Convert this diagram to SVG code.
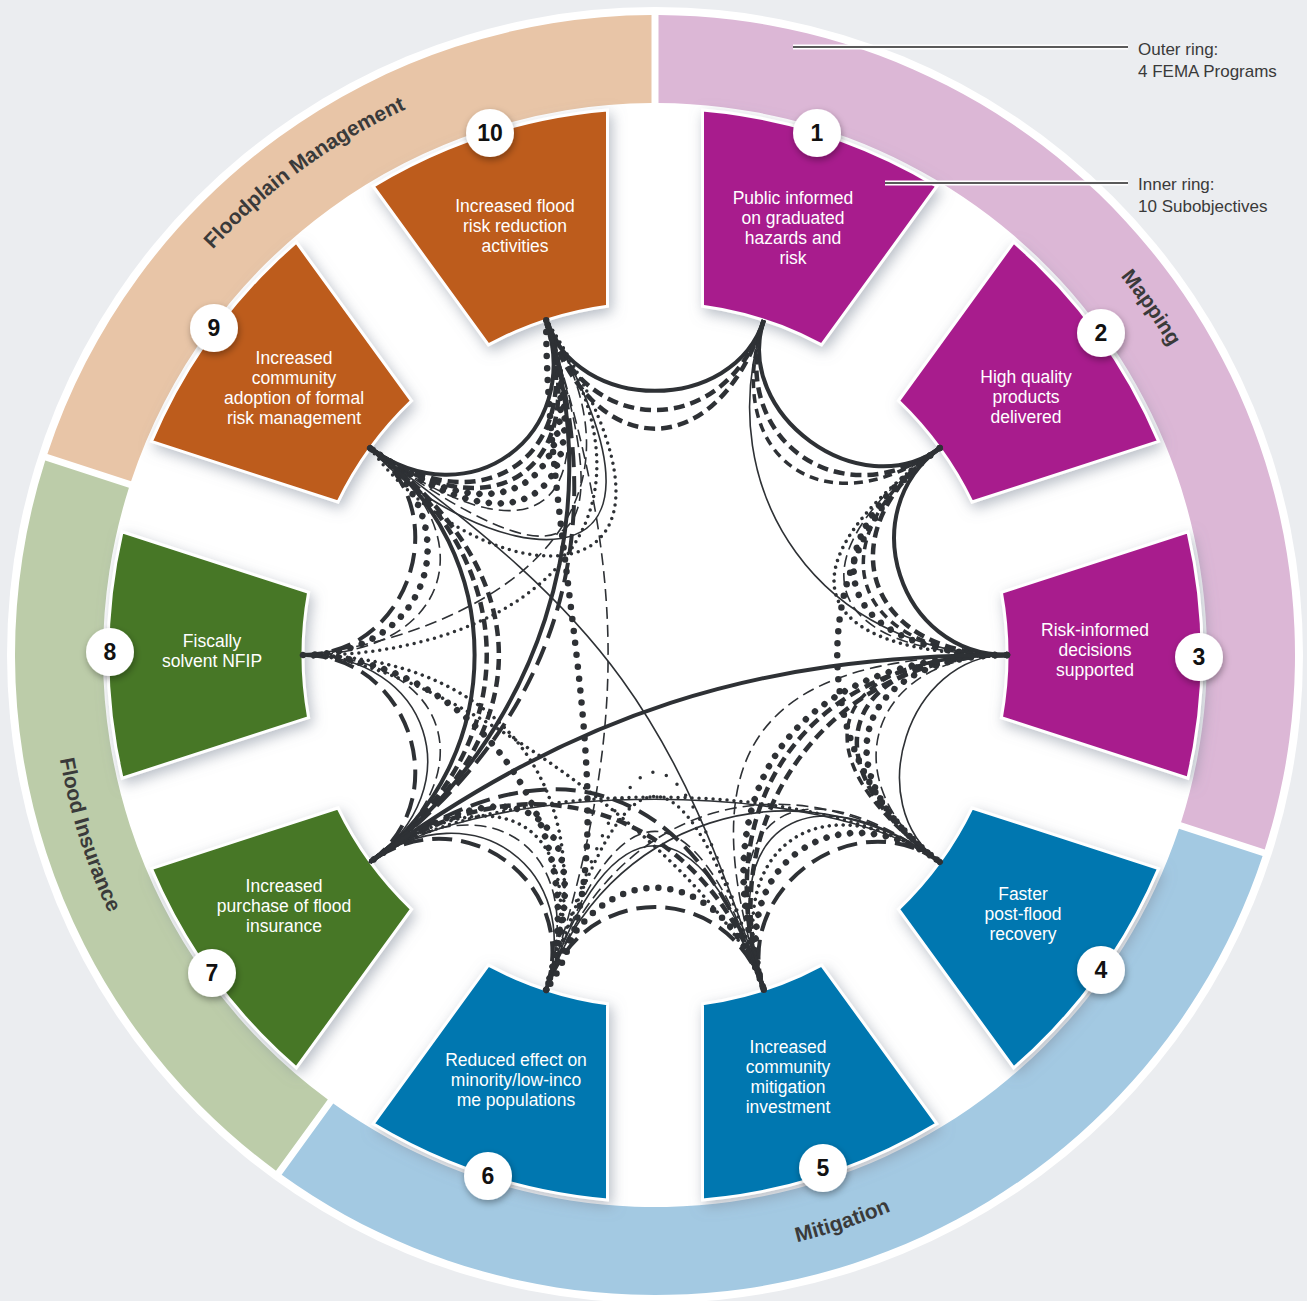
<svg xmlns="http://www.w3.org/2000/svg" width="1307" height="1301" viewBox="0 0 1307 1301">
<defs>
<style>
.ch{fill:none;stroke:#2e3135}
.s{stroke-width:4}
.d{stroke-width:4.5;stroke-dasharray:11 6}
.dm{stroke-width:3.5;stroke-dasharray:9 6}
.ld{stroke-width:4;stroke-dasharray:20 9}
.bd{stroke-width:6.5;stroke-dasharray:0 12;stroke-linecap:round}
.sd{stroke-width:3.5;stroke-dasharray:0 7;stroke-linecap:round}
.sd2{stroke-width:3.5;stroke-dasharray:0 14;stroke-linecap:round}
.t{stroke-width:1.6}
.td{stroke-width:1.6;stroke-dasharray:12 6}
.lbl{font-family:"Liberation Sans",Arial,sans-serif;font-size:17.5px;fill:#fff;text-anchor:middle}
.num{font-family:"Liberation Sans",Arial,sans-serif;font-size:23px;font-weight:bold;fill:#111;text-anchor:middle}
.rl{font-family:"Liberation Sans",Arial,sans-serif;font-size:21px;font-weight:bold;fill:#3a3a3a}
.co{font-family:"Liberation Sans",Arial,sans-serif;font-size:17px;fill:#3a3a3a}
.seg{stroke:#fff;stroke-width:3}
.badge{fill:#fff}
</style>
<filter id="sh" x="-30%" y="-30%" width="160%" height="160%">
<feGaussianBlur in="SourceAlpha" stdDeviation="7"/>
<feOffset dx="3" dy="5" result="b"/>
<feFlood flood-color="#7d8797" flood-opacity="0.55"/>
<feComposite in2="b" operator="in"/>
<feMerge><feMergeNode/><feMergeNode in="SourceGraphic"/></feMerge>
</filter>
<filter id="sh2" x="-50%" y="-50%" width="200%" height="200%">
<feGaussianBlur in="SourceAlpha" stdDeviation="3.5"/>
<feOffset dx="1" dy="3" result="b"/>
<feFlood flood-color="#000" flood-opacity="0.35"/>
<feComposite in2="b" operator="in"/>
<feMerge><feMergeNode/><feMergeNode in="SourceGraphic"/></feMerge>
</filter>
<path id="segShape" d="M592.39 308.61L531.78 122.06A547 547 0 0 1 778.22 122.06L717.61 308.61A352 352 0 0 0 592.39 308.61Z"/>
<path id="arcFM" d="M58.29 717.72A600 600 0 0 1 899.04 106.87"/>
<path id="arcMap" d="M602.7 57.28A600 600 0 0 1 1198.79 908.57"/>
<path id="arcMit" d="M253.2 1105.97A604 604 0 0 0 1246.45 777.49"/>
<path id="arcFI" d="M208.83 247.72A604 604 0 0 0 525.3 1244.91"/>
</defs>
<rect width="1307" height="1301" fill="#ebedf0"/>
<circle cx="655" cy="655" r="648" fill="#fff"/>

<g id="outer-ring">
<path d="M658.5 15A640 640 0 0 1 1264.75 849.43L1181.06 822.23A552 552 0 0 0 658.5 103Z" fill="#dcb7d6"/>
<path d="M1262.6 856.08A640 640 0 0 1 281.66 1174.82L333.27 1103.55A552 552 0 0 0 1178.94 828.76Z" fill="#a3c9e2"/>
<path d="M275.98 1170.7A640 640 0 0 1 45.25 460.57L128.94 487.77A552 552 0 0 0 327.81 1099.59Z" fill="#bccca9"/>
<path d="M47.4 453.92A640 640 0 0 1 651.5 15L651.5 103A552 552 0 0 0 131.06 481.24Z" fill="#e8c5a7"/>
<text class="rl"><textPath href="#arcFM" startOffset="50%" text-anchor="middle">Floodplain Management</textPath></text>
<text class="rl"><textPath href="#arcMap" startOffset="50%" text-anchor="middle">Mapping</textPath></text>
<text class="rl"><textPath href="#arcMit" startOffset="50%" text-anchor="middle">Mitigation</textPath></text>
<text class="rl"><textPath href="#arcFI" startOffset="50%" text-anchor="middle">Flood Insurance</textPath></text>
</g>

<g id="node-1">
<g filter="url(#sh)"><use href="#segShape" class="seg" fill="#a81f8d" transform="rotate(18 655 655)"/></g>
<text class="lbl"><tspan x="793" y="204">Public informed</tspan><tspan x="793" y="224">on graduated</tspan><tspan x="793" y="244">hazards and</tspan><tspan x="793" y="264">risk</tspan></text>
<circle class="badge" cx="817" cy="133" r="24" filter="url(#sh2)"/><text class="num" x="817" y="141">1</text>
</g>
<g id="node-2">
<g filter="url(#sh)"><use href="#segShape" class="seg" fill="#a81f8d" transform="rotate(54 655 655)"/></g>
<text class="lbl"><tspan x="1026" y="383">High quality</tspan><tspan x="1026" y="403">products</tspan><tspan x="1026" y="423">delivered</tspan></text>
<circle class="badge" cx="1101" cy="333" r="24" filter="url(#sh2)"/><text class="num" x="1101" y="341">2</text>
</g>
<g id="node-3">
<g filter="url(#sh)"><use href="#segShape" class="seg" fill="#a81f8d" transform="rotate(90 655 655)"/></g>
<text class="lbl"><tspan x="1095" y="636">Risk-informed</tspan><tspan x="1095" y="656">decisions</tspan><tspan x="1095" y="676">supported</tspan></text>
<circle class="badge" cx="1199" cy="657" r="24" filter="url(#sh2)"/><text class="num" x="1199" y="665">3</text>
</g>
<g id="node-4">
<g filter="url(#sh)"><use href="#segShape" class="seg" fill="#0077b0" transform="rotate(126 655 655)"/></g>
<text class="lbl"><tspan x="1023" y="900">Faster</tspan><tspan x="1023" y="920">post-flood</tspan><tspan x="1023" y="940">recovery</tspan></text>
<circle class="badge" cx="1101" cy="970" r="24" filter="url(#sh2)"/><text class="num" x="1101" y="978">4</text>
</g>
<g id="node-5">
<g filter="url(#sh)"><use href="#segShape" class="seg" fill="#0077b0" transform="rotate(162 655 655)"/></g>
<text class="lbl"><tspan x="788" y="1053">Increased</tspan><tspan x="788" y="1073">community</tspan><tspan x="788" y="1093">mitigation</tspan><tspan x="788" y="1113">investment</tspan></text>
<circle class="badge" cx="823" cy="1168" r="24" filter="url(#sh2)"/><text class="num" x="823" y="1176">5</text>
</g>
<g id="node-6">
<g filter="url(#sh)"><use href="#segShape" class="seg" fill="#0077b0" transform="rotate(198 655 655)"/></g>
<text class="lbl"><tspan x="516" y="1066">Reduced effect on</tspan><tspan x="516" y="1086">minority/low-inco</tspan><tspan x="516" y="1106">me populations</tspan></text>
<circle class="badge" cx="488" cy="1176" r="24" filter="url(#sh2)"/><text class="num" x="488" y="1184">6</text>
</g>
<g id="node-7">
<g filter="url(#sh)"><use href="#segShape" class="seg" fill="#467726" transform="rotate(234 655 655)"/></g>
<text class="lbl"><tspan x="284" y="892">Increased</tspan><tspan x="284" y="912">purchase of flood</tspan><tspan x="284" y="932">insurance</tspan></text>
<circle class="badge" cx="212" cy="973" r="24" filter="url(#sh2)"/><text class="num" x="212" y="981">7</text>
</g>
<g id="node-8">
<g filter="url(#sh)"><use href="#segShape" class="seg" fill="#467726" transform="rotate(270 655 655)"/></g>
<text class="lbl"><tspan x="212" y="647">Fiscally</tspan><tspan x="212" y="667">solvent NFIP</tspan></text>
<circle class="badge" cx="110" cy="652" r="24" filter="url(#sh2)"/><text class="num" x="110" y="660">8</text>
</g>
<g id="node-9">
<g filter="url(#sh)"><use href="#segShape" class="seg" fill="#bd5b1c" transform="rotate(306 655 655)"/></g>
<text class="lbl"><tspan x="294" y="364">Increased</tspan><tspan x="294" y="384">community</tspan><tspan x="294" y="404">adoption of formal</tspan><tspan x="294" y="424">risk management</tspan></text>
<circle class="badge" cx="214" cy="328" r="24" filter="url(#sh2)"/><text class="num" x="214" y="336">9</text>
</g>
<g id="node-10">
<g filter="url(#sh)"><use href="#segShape" class="seg" fill="#bd5b1c" transform="rotate(342 655 655)"/></g>
<text class="lbl"><tspan x="515" y="212">Increased flood</tspan><tspan x="515" y="232">risk reduction</tspan><tspan x="515" y="252">activities</tspan></text>
<circle class="badge" cx="490" cy="133" r="24" filter="url(#sh2)"/><text class="num" x="490" y="141">10</text>
</g>

<g id="connectors">
<!-- 10-1 -->
<path class="ch s" d="M546.23 320.23C576.82 414.38 733.18 414.38 763.77 320.23"/>
<path class="ch d" d="M546.23 320.23C585.16 440.06 724.84 440.06 763.77 320.23"/>
<path class="ch d" d="M546.23 320.23C593.2 464.79 716.8 464.79 763.77 320.23"/>
<!-- 1-2 -->
<g transform="rotate(36 655 655)">
<path class="ch s" d="M546.23 320.23C576.82 414.38 733.18 414.38 763.77 320.23"/>
<path class="ch d" d="M546.23 320.23C584.23 437.21 725.77 437.21 763.77 320.23"/>
<path class="ch dm" d="M546.23 320.23C590.41 456.23 719.59 456.23 763.77 320.23"/>
</g>
<!-- 2-3 -->
<g transform="rotate(72 655 655)">
<path class="ch s" d="M546.23 320.23C579.6 422.94 730.4 422.94 763.77 320.23"/>
<path class="ch d" d="M546.23 320.23C590.11 455.28 719.89 455.28 763.77 320.23"/>
<path class="ch dm" d="M546.23 320.23C594.74 469.54 715.26 469.54 763.77 320.23"/>
<path class="ch bd" d="M546.23 320.23C599.38 483.81 710.62 483.81 763.77 320.23"/>
<path class="ch td" d="M546.23 320.23C604.01 498.08 705.99 498.08 763.77 320.23"/>
<path class="ch sd" d="M546.23 320.23C608.65 512.34 701.35 512.34 763.77 320.23"/>
</g>
<!-- 3-4 -->
<g transform="rotate(108 655 655)">
<path class="ch t" d="M546.23 320.23C576.82 414.38 733.18 414.38 763.77 320.23"/>
<path class="ch td" d="M546.23 320.23C588.56 450.52 721.44 450.52 763.77 320.23"/>
<path class="ch bd" d="M546.23 320.23C593.2 464.79 716.8 464.79 763.77 320.23"/>
<path class="ch d" d="M546.23 320.23C597.83 479.05 712.17 479.05 763.77 320.23"/>
<path class="ch dm" d="M546.23 320.23C602.47 493.32 707.53 493.32 763.77 320.23"/>
</g>
<!-- 4-5 -->
<g transform="rotate(144 655 655)">
<path class="ch ld" d="M546.23 320.23C578.67 420.09 731.33 420.09 763.77 320.23"/>
<path class="ch bd" d="M546.23 320.23C585.78 441.96 724.22 441.96 763.77 320.23"/>
<path class="ch sd" d="M546.23 320.23C591.65 460.03 718.35 460.03 763.77 320.23"/>
<path class="ch t" d="M546.23 320.23C597.83 479.05 712.17 479.05 763.77 320.23"/>
<path class="ch td" d="M546.23 320.23C602.47 493.32 707.53 493.32 763.77 320.23"/>
</g>
<!-- 5-6 -->
<g transform="rotate(180 655 655)">
<path class="ch ld" d="M546.23 320.23C582.07 430.55 727.93 430.55 763.77 320.23"/>
<path class="ch bd" d="M546.23 320.23C590.41 456.23 719.59 456.23 763.77 320.23"/>
<path class="ch sd" d="M546.23 320.23C629.97 577.96 680.03 577.96 763.77 320.23"/>
<path class="ch sd2" d="M546.23 320.23C640.48 610.3 669.52 610.3 763.77 320.23"/>
<path class="ch t" d="M546.23 320.23C608.65 512.34 701.35 512.34 763.77 320.23"/>
<path class="ch td" d="M546.23 320.23C614.83 531.36 695.17 531.36 763.77 320.23"/>
</g>
<!-- 6-7 -->
<g transform="rotate(216 655 655)">
<path class="ch ld" d="M546.23 320.23C581.14 427.7 728.86 427.7 763.77 320.23"/>
<path class="ch t" d="M546.23 320.23C585.47 441.01 724.53 441.01 763.77 320.23"/>
<path class="ch td" d="M546.23 320.23C591.65 460.03 718.35 460.03 763.77 320.23"/>
<path class="ch sd" d="M546.23 320.23C597.83 479.05 712.17 479.05 763.77 320.23"/>
<path class="ch bd" d="M546.23 320.23C604.01 498.08 705.99 498.08 763.77 320.23"/>
</g>
<!-- 7-8 -->
<g transform="rotate(252 655 655)">
<path class="ch ld" d="M546.23 320.23C579.29 421.99 730.71 421.99 763.77 320.23"/>
<path class="ch t" d="M546.23 320.23C585.47 441.01 724.53 441.01 763.77 320.23"/>
<path class="ch td" d="M546.23 320.23C591.65 460.03 718.35 460.03 763.77 320.23"/>
</g>
<!-- 8-9 -->
<g transform="rotate(288 655 655)">
<path class="ch ld" d="M546.23 320.23C579.29 421.99 730.71 421.99 763.77 320.23"/>
<path class="ch bd" d="M546.23 320.23C585.47 441.01 724.53 441.01 763.77 320.23"/>
<path class="ch td" d="M546.23 320.23C591.65 460.03 718.35 460.03 763.77 320.23"/>
</g>
<!-- 9-10 -->
<g transform="rotate(324 655 655)">
<path class="ch s" d="M546.23 320.23C583.93 436.26 726.07 436.26 763.77 320.23"/>
<path class="ch d" d="M546.23 320.23C589.49 453.38 720.51 453.38 763.77 320.23"/>
<path class="ch d" d="M546.23 320.23C593.81 466.69 716.19 466.69 763.77 320.23"/>
<path class="ch bd" d="M546.23 320.23C597.83 479.05 712.17 479.05 763.77 320.23"/>
<path class="ch bd" d="M546.23 320.23C604.01 498.08 705.99 498.08 763.77 320.23"/>
<path class="ch td" d="M546.23 320.23C608.65 512.34 701.35 512.34 763.77 320.23"/>
<path class="ch td" d="M546.23 320.23C624.1 559.89 685.9 559.89 763.77 320.23"/>
</g>
<!-- deep arcs into node 10 -->
<path class="ch t" d="M370.23 448.1C470 560 720 620 546.23 320.23"/>
<path class="ch sd" d="M370.23 448.1C480 600 740 620 546.23 320.23"/>
<path class="ch sd" d="M303 655C470 660 700 560 546.23 320.23"/>
<path class="ch td" d="M303 655C450 640 680 540 546.23 320.23"/>
<!-- s=2 chords -->
<path class="ch t" transform="rotate(54 655 655)" d="M448.1 370.23C555.08 517.47 754.92 517.47 861.9 370.23"/>
<path class="ch bd" transform="rotate(90 655 655)" d="M448.1 370.23C547.43 506.95 762.57 506.95 861.9 370.23"/>
<g transform="rotate(126 655 655)">
<path class="ch d" d="M448.1 370.23C552.14 513.42 757.86 513.42 861.9 370.23"/>
<path class="ch d" d="M448.1 370.23C563.89 529.6 746.11 529.6 861.9 370.23"/>
<path class="ch bd" d="M448.1 370.23C572.71 541.74 737.29 541.74 861.9 370.23"/>
<path class="ch td" d="M448.1 370.23C596.22 574.1 713.78 574.1 861.9 370.23"/>
</g>
<g transform="rotate(162 655 655)">
<path class="ch t" d="M448.1 370.23C552.72 514.23 757.28 514.23 861.9 370.23"/>
<path class="ch td" d="M448.1 370.23C560.95 525.56 749.05 525.56 861.9 370.23"/>
</g>
<g transform="rotate(198 655 655)">
<path class="ch ld" d="M448.1 370.23C578.59 549.83 731.41 549.83 861.9 370.23"/>
<path class="ch d" d="M448.1 370.23C560.95 525.56 749.05 525.56 861.9 370.23"/>
</g>
<g transform="rotate(234 655 655)">
<path class="ch bd" d="M448.1 370.23C546.85 506.14 763.15 506.14 861.9 370.23"/>
<path class="ch sd" d="M448.1 370.23C566.83 533.65 743.17 533.65 861.9 370.23"/>
</g>
<g transform="rotate(270 655 655)">
<path class="ch s" d="M448.1 370.23C549.2 509.38 760.8 509.38 861.9 370.23"/>
<path class="ch d" d="M448.1 370.23C560.95 525.56 749.05 525.56 861.9 370.23"/>
<path class="ch d" d="M448.1 370.23C572.71 541.74 737.29 541.74 861.9 370.23"/>
</g>
<!-- s=3 chords -->
<g transform="rotate(288 655 655)">
<path class="ch s" d="M370.23 448.1C537.69 569.77 772.31 569.77 939.77 448.1"/>
<path class="ch ld" d="M370.23 448.1C553.87 581.53 756.13 581.53 939.77 448.1"/>
</g>
<g transform="rotate(180 655 655)">
<path class="ch sd" d="M370.23 448.1C489.15 534.5 820.85 534.5 939.77 448.1"/>
<path class="ch t" d="M370.23 448.1C485.11 531.56 824.89 531.56 939.77 448.1"/>
</g>
<path class="ch sd" transform="rotate(216 655 655)" d="M370.23 448.1C477.02 525.69 832.98 525.69 939.77 448.1"/>
<!-- s=4 chords -->
<path class="ch s" transform="rotate(162 655 655)" d="M320.23 546.23C559.89 624.1 750.11 624.1 989.77 546.23"/>
<path class="ch bd" d="M546.23 320.23C545 560 640 860 546.23 989.77"/>
<path class="ch td" transform="rotate(270 655 655)" d="M320.23 546.23C574.16 628.73 735.84 628.73 989.77 546.23"/>
<path class="ch t" transform="rotate(234 655 655)" d="M320.23 546.23C597.94 636.46 712.06 636.46 989.77 546.23"/>
</g>

<g id="callouts">
<line x1="793" y1="47" x2="1128" y2="47" stroke="#fff" stroke-width="5"/>
<line x1="793" y1="47" x2="1128" y2="47" stroke="#5a5a5a" stroke-width="2"/>
<line x1="885" y1="183" x2="1128" y2="183" stroke="#fff" stroke-width="5"/>
<line x1="885" y1="183" x2="1128" y2="183" stroke="#5a5a5a" stroke-width="2"/>
<text class="co"><tspan x="1138" y="55">Outer ring:</tspan><tspan x="1138" y="77">4 FEMA Programs</tspan></text>
<text class="co"><tspan x="1138" y="190">Inner ring:</tspan><tspan x="1138" y="212">10 Subobjectives</tspan></text>
</g>
</svg>
